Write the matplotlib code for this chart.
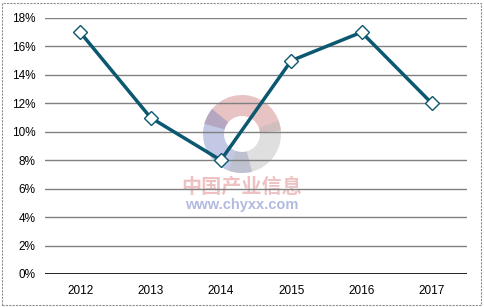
import matplotlib
matplotlib.use("Agg")
import matplotlib.pyplot as plt
from matplotlib.patches import Rectangle, Wedge
from matplotlib.ticker import FuncFormatter

years = ["2012", "2013", "2014", "2015", "2016", "2017"]
values = [17, 11, 8, 15, 17, 12]
yticks = [0, 2, 4, 6, 8, 10, 12, 14, 16, 18]

plt.rcParams['font.family'] = ['Liberation Sans', 'DejaVu Sans']

fig = plt.figure(figsize=(4.84, 3.07), dpi=100)

# watermark logo layer (below the chart)
lax = fig.add_axes([0, 0, 1, 1], zorder=0)
lax.set_xlim(0, 484)
lax.set_ylim(0, 307)
lax.axis("off")
cx, cy = 242, 307 - 134
lax.add_patch(Wedge((cx, cy), 39, 5, 165, width=21, facecolor="#C87070", alpha=0.42, lw=0))
lax.add_patch(Wedge((cx, cy), 39, 140, 285, width=21, facecolor="#7080C0", alpha=0.42, lw=0))
lax.add_patch(Wedge((cx, cy), 39, -110, 20, width=21, facecolor="#B8B8B8", alpha=0.45, lw=0))
lax.text(242, 307 - 186, "中国产业信息", ha="center", va="center", fontsize=14.5,
         color="#E09090", alpha=0.55, family=["Noto Sans CJK SC", "DejaVu Sans"], fontweight="bold")
lax.text(242, 307 - 205, "www.chyxx.com", ha="center", va="center", fontsize=10.5,
         color="#98A4D4", alpha=0.75, fontweight="bold")

ax = fig.add_axes([45/484, 1-274/307, 422/484, 256/307], zorder=1)
ax.set_facecolor("none")

x = list(range(len(years)))
for t in yticks[1:]:
    ax.axhline(t, color="#808080", lw=1.0, zorder=1)
ax.axhline(0, color="#000000", lw=1.2, zorder=2)

ax.plot(x, values, color="#0B5870", lw=2.5, marker="D", markersize=7,
        markerfacecolor="white", markeredgecolor="#0B5870", markeredgewidth=1.0, zorder=5)

ax.set_xlim(-0.5, len(years)-0.5)
ax.set_ylim(0, 18)
ax.set_xticks(x)
ax.set_xticklabels(years)
ax.set_yticks(yticks)
ax.yaxis.set_major_formatter(FuncFormatter(lambda v, p: f"{int(v)}%"))
ax.tick_params(axis="both", length=0, labelsize=8.5, colors="#000000")
ax.tick_params(axis="x", pad=8)
ax.tick_params(axis="y", pad=7)
for s in ax.spines.values():
    s.set_visible(False)

fig.patches.append(Rectangle((2/484, 2/307), 479/484, 302/307, transform=fig.transFigure,
                             fill=False, edgecolor="#909090", lw=0.8, linestyle=(0, (2, 1))))

fig.savefig("out.png", dpi=100)
